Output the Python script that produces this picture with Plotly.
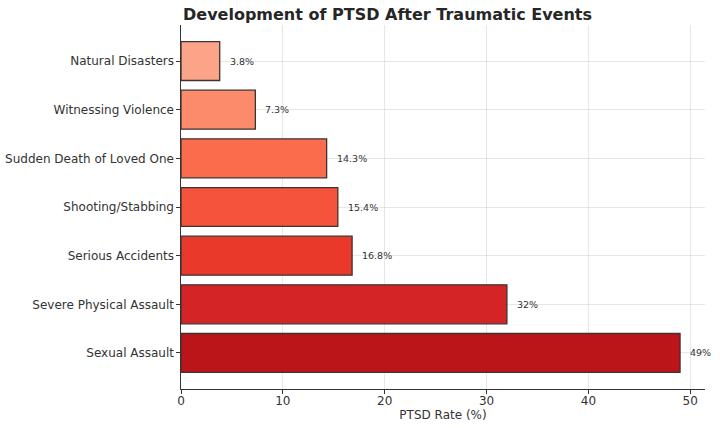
import plotly.graph_objects as go

categories = ["Natural Disasters", "Witnessing Violence", "Sudden Death of Loved One",
              "Shooting/Stabbing", "Serious Accidents", "Severe Physical Assault", "Sexual Assault"]
rates = [3.8, 7.3, 14.3, 15.4, 16.8, 32, 49]
labels = ["3.8%", "7.3%", "14.3%", "15.4%", "16.8%", "32%", "49%"]
colors = ["#FCA488", "#FC8B6B", "#FB6C4C", "#F5533B", "#E8392B", "#D42425", "#BB151A"]

W, H = 720, 428

fig = go.Figure()
fig.add_trace(go.Bar(
    y=categories, x=rates, orientation="h", width=0.8,
    marker=dict(color=colors, line=dict(color="#3d3333", width=1.3)),
    hoverinfo="skip",
))

for c, v, t in zip(categories, rates, labels):
    fig.add_annotation(x=v, y=c, text=t, showarrow=False, xanchor="left", xshift=8,
                       font=dict(family="DejaVu Sans", size=9.5, color="#333333"))

fig.update_layout(
    width=W, height=H,
    margin=dict(l=181, r=15, t=25, b=39, autoexpand=False),
    paper_bgcolor="white", plot_bgcolor="white",
    showlegend=False,
    title=dict(text="<b>Development of PTSD After Traumatic Events</b>",
               x=387.5 / W, xanchor="center", y=1 - 14 / H, yanchor="middle",
               font=dict(family="DejaVu Sans", size=16, color="#262626")),
    font=dict(family="DejaVu Sans", size=12, color="#333333"),
)
fig.update_xaxes(range=[0, 51.45], dtick=10, tick0=0, showgrid=True, automargin=False,
                 gridcolor="rgba(176,176,176,0.3)", gridwidth=1,
                 showline=True, linecolor="#333333", linewidth=1.2,
                 ticks="outside", ticklen=3.5, tickcolor="#333333", zeroline=False,
                 layer="above traces", ticklabelstandoff=-3,
                 title=dict(text="PTSD Rate (%)", font=dict(size=12), standoff=1),
                 tickfont=dict(size=12))
fig.update_yaxes(range=[6.74, -0.74], showgrid=True, automargin=False,
                 gridcolor="rgba(176,176,176,0.3)", gridwidth=1,
                 showline=True, linecolor="#333333", linewidth=1.2,
                 ticks="outside", ticklen=3.5, tickcolor="#333333",
                 layer="above traces", tickfont=dict(size=12))

fig.write_html("out.html", config={"displayModeBar": False},
               post_script="document.body.style.margin='0';")
